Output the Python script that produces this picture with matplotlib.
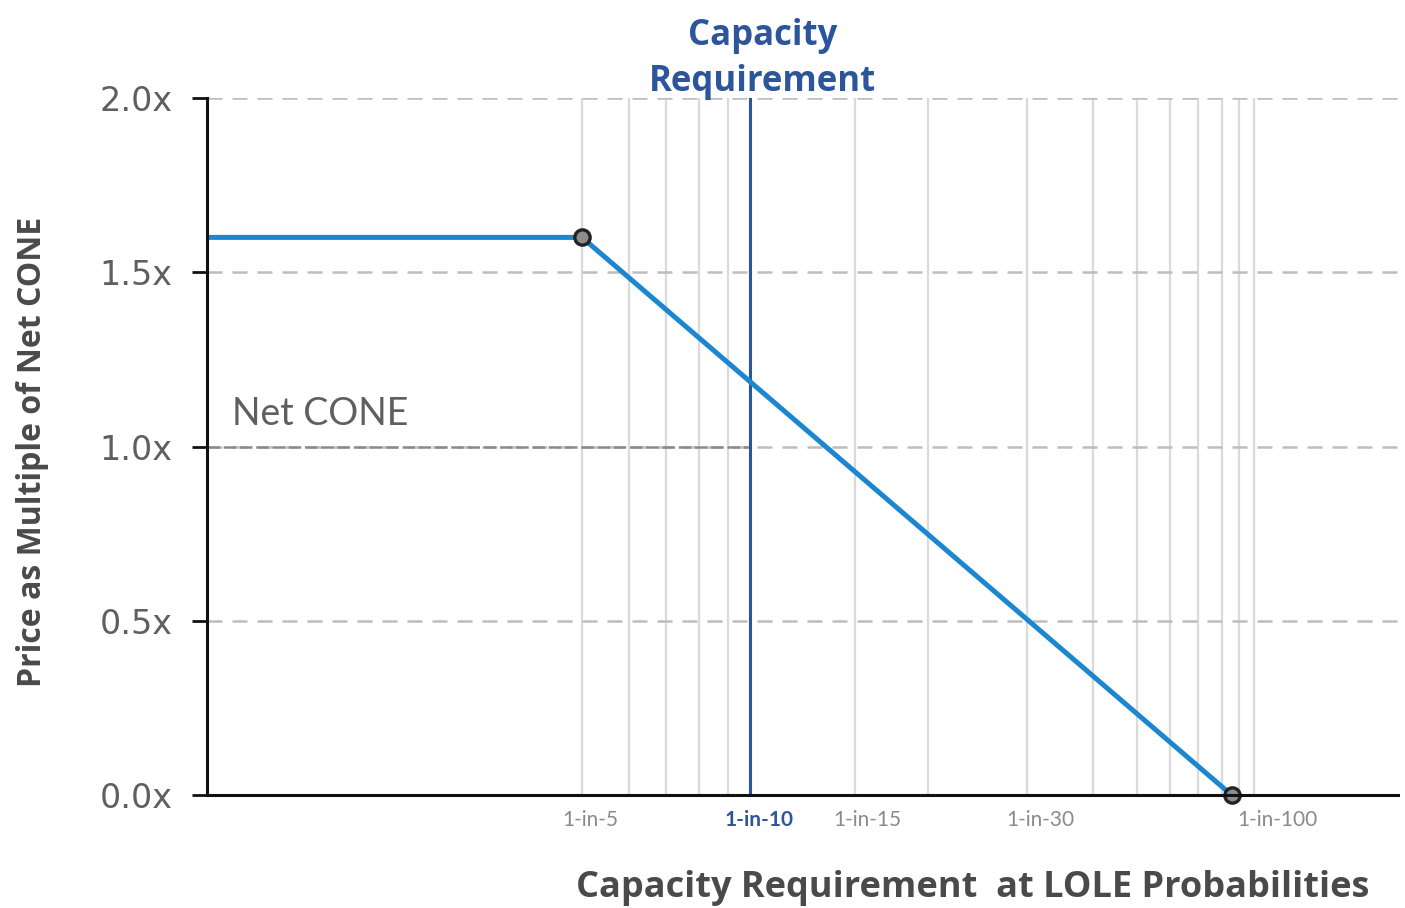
import matplotlib
matplotlib.use("Agg")
import matplotlib.pyplot as plt
from matplotlib.transforms import offset_copy

# Capacity expressed as % of the 1-in-10 requirement
lole_levels = [5, 6, 7, 8, 9, 10, 15, 20, 30, 40, 50, 60, 70, 80, 90, 100]
lole_capacity = [97.0, 97.84, 98.5, 99.09, 99.61, 100.0, 101.875, 103.18,
                 104.95, 106.125, 106.91, 107.5, 108.0, 108.43, 108.73, 109.0]

labelled_levels = [5, 10, 15, 30, 100]
tick_labels = ["1-in-5", "1-in-10", "1-in-15", "1-in-30", "1-in-100"]

# Demand curve: price cap, kink and foot
curve_x = [90.3, 97.0, 108.6]
curve_y = [1.6, 1.6, 0.0]
kink_points_x = [97.0, 108.6]
kink_points_y = [1.6, 0.0]

requirement_x = 100.0
net_cone = 1.0
y_ticks = [0.0, 0.5, 1.0, 1.5, 2.0]
y_tick_labels = ["0.0x", "0.5x", "1.0x", "1.5x", "2.0x"]

FONT = "Lato"
BOLD = "Open Sans"
GRAY_TXT = "#5f5f5f"
CURVE = "#1b87d0"
REQ = "#2c559c"

fig = plt.figure(figsize=(14.05, 9.08), dpi=100)
ax = fig.add_axes([207 / 1405, 1 - 795 / 908, (1398 - 207) / 1405, (795 - 98) / 908])
ax.set_xlim(90.304, 111.571)
ax.set_ylim(0, 2.0)

# vertical LOLE grid
for xv in lole_capacity:
    ax.plot([xv, xv], [0, 2.0], color="#dadada", lw=1.6, zorder=1)

# horizontal dashed grid
for yv in y_ticks[1:]:
    ax.plot([90.304, 111.571], [yv, yv], color="#bdbdbd", lw=1.8,
            dashes=(6, 4), zorder=1.5)

# Net CONE reference up to the requirement
ax.plot([90.304, requirement_x], [net_cone, net_cone], color="#8a8a8a", lw=1.8,
        dashes=(5, 1.5), zorder=2)
ax.text(90.75, 1.062, "Net CONE", fontsize=27, color=GRAY_TXT,
        family=FONT, ha="left", va="baseline")

# capacity requirement line
ax.plot([requirement_x, requirement_x], [0, 2.0], color=REQ, lw=2.2, zorder=3)
ax.text(requirement_x + 0.23, 1.995, "Capacity\nRequirement", fontsize=25,
        fontweight="bold", color=REQ, family=BOLD, ha="center", va="bottom",
        linespacing=1.35)

# demand curve
ax.plot(curve_x, curve_y, color=CURVE, lw=3.6, zorder=4, solid_capstyle="butt")
ax.plot(kink_points_x, kink_points_y, "o", ms=11, mfc="#8c8c8c", mec="#222222",
        mew=2.4, zorder=5, clip_on=False)

# spines & ticks
for s in ["top", "right"]:
    ax.spines[s].set_visible(False)
for s in ["left", "bottom"]:
    ax.spines[s].set_linewidth(2.2)
    ax.spines[s].set_color("#111111")
    ax.spines[s].set_zorder(6)

ax.set_yticks(y_ticks)
ax.set_yticklabels(y_tick_labels, fontsize=24, color=GRAY_TXT, family="DejaVu Sans")
ax.tick_params(axis="y", length=11, width=2, color="#111111", pad=14)

ax.set_xticks([])
label_shift_px = [8, 9, 12, 13, 23]
for lvl, lab, dx in zip(labelled_levels, tick_labels, label_shift_px):
    xv = lole_capacity[lole_levels.index(lvl)]
    tr = offset_copy(ax.get_xaxis_transform(), fig=fig, x=dx, y=0, units="dots")
    is_req = lvl == 10
    ax.text(xv, -0.036, lab, transform=tr, ha="center", va="center",
            fontsize=15, family=FONT,
            color=REQ if is_req else "#8a8a8a",
            fontweight="bold" if is_req else "normal")

fig.text(33 / 1405, 1 - 452 / 908, "Price as Multiple of Net CONE", rotation=90,
         fontsize=23, fontweight="bold", color="#4a4a4a", family=BOLD,
         ha="center", va="center")
fig.text(973 / 1405, 1 - 888 / 908, "Capacity Requirement  at LOLE Probabilities",
         fontsize=26, fontweight="bold", color="#4a4a4a", family=BOLD,
         ha="center", va="center")

fig.savefig("out.png", dpi=100)
